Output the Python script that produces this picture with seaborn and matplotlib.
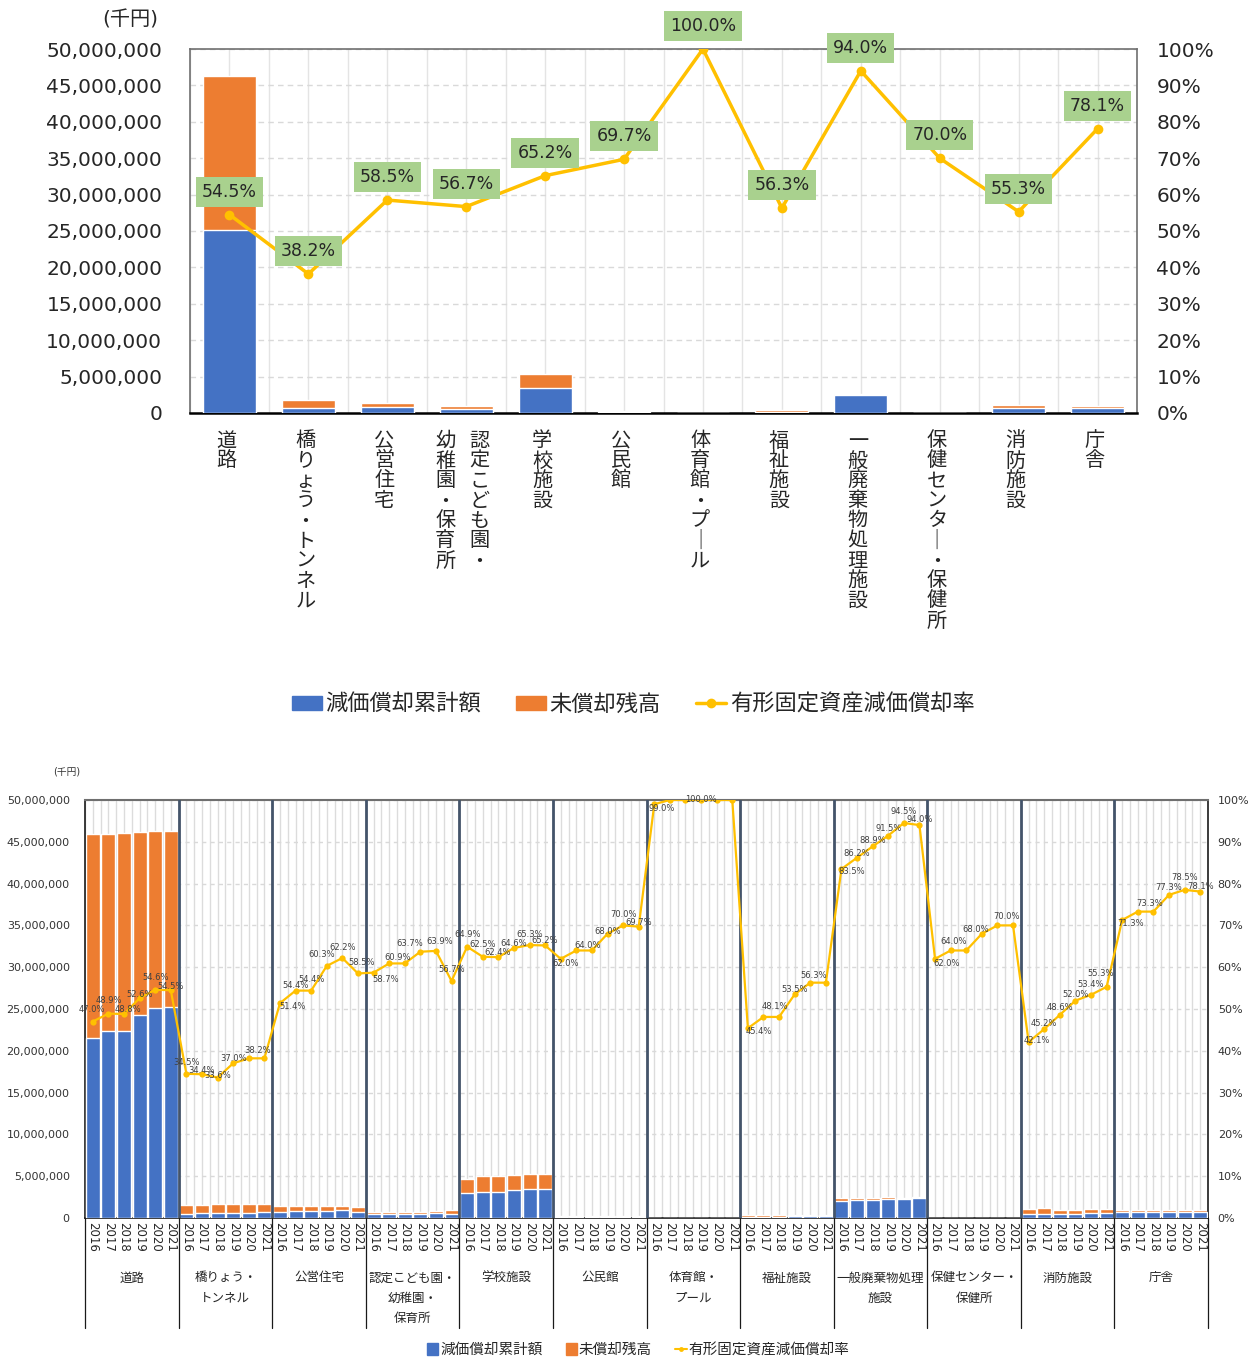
import numpy as np
import pandas as pd
import matplotlib
matplotlib.use("Agg")
import matplotlib.pyplot as plt
from matplotlib.patches import Patch
from matplotlib.lines import Line2D
import seaborn as sns

# ---- data ----
categories = ['道路', '橋りょう・トンネル', '公営住宅', '認定こども園・幼稚園・保育所', '学校施設', '公民館',
              '体育館・プール', '福祉施設', '一般廃棄物処理施設', '保健センター・保健所', '消防施設', '庁舎']
years = ['2016', '2017', '2018', '2019', '2020', '2021']

# top chart: vertical labels, columns from right to left
top_labels = [['道路'], ['橋りょう・トンネル'], ['公営住宅'], ['認定こども園・', '幼稚園・保育所'], ['学校施設'],
              ['公民館'], ['体育館・プール'], ['福祉施設'], ['一般廃棄物処理施設'], ['保健センター・保健所'],
              ['消防施設'], ['庁舎']]
# bottom chart: category labels, one entry per line
bottom_labels = [['道路'], ['橋りょう・', 'トンネル'], ['公営住宅'], ['認定こども園・', '幼稚園・', '保育所'],
                 ['学校施設'], ['公民館'], ['体育館・', 'プール'], ['福祉施設'], ['一般廃棄物処理', '施設'],
                 ['保健センター・', '保健所'], ['消防施設'], ['庁舎']]

# 減価償却累計額 (千円), 2016-2021 for each category
depreciation = [21500000, 22400000, 22400000, 24300000, 25160000, 25200000,
                520000, 550000, 560000, 620000, 640000, 660000,
                760000, 800000, 800000, 890000, 920000, 770000,
                450000, 460000, 460000, 480000, 540000, 520000,
                3040000, 3150000, 3140000, 3360000, 3470000, 3470000,
                150000, 155000, 155000, 165000, 170000, 170000,
                49500, 50000, 50000, 50000, 50000, 50000,
                160000, 175000, 175000, 195000, 205000, 205000,
                2000000, 2100000, 2170000, 2310000, 2310000, 2410000,
                20000, 21000, 21000, 22000, 23000, 23000,
                470000, 520000, 470000, 520000, 580000, 620000,
                660000, 670000, 670000, 710000, 720000, 720000]

# 未償却残高 (千円)
remaining = [24400000, 23560000, 23700000, 21900000, 21080000, 21100000,
             1000000, 1050000, 1120000, 1060000, 1040000, 1060000,
             720000, 680000, 680000, 590000, 560000, 550000,
             310000, 300000, 300000, 280000, 300000, 400000,
             1640000, 1890000, 1900000, 1840000, 1850000, 1850000,
             90000, 85000, 85000, 75000, 70000, 75000,
             500, 0, 0, 0, 0, 0,
             195000, 190000, 190000, 170000, 160000, 160000,
             400000, 340000, 270000, 210000, 130000, 150000,
             12000, 11000, 11000, 10000, 10000, 10000,
             650000, 640000, 490000, 480000, 500000, 500000,
             260000, 250000, 250000, 210000, 200000, 200000]

# 有形固定資産減価償却率 (%)
rates = [47.0, 48.9, 48.8, 52.6, 54.6, 54.5,
         34.5, 34.4, 33.6, 37.0, 38.2, 38.2,
         51.4, 54.4, 54.4, 60.3, 62.2, 58.5,
         58.7, 60.9, 60.9, 63.7, 63.9, 56.7,
         64.9, 62.5, 62.4, 64.6, 65.3, 65.2,
         62.0, 64.0, 64.0, 68.0, 70.0, 69.7,
         99.0, 100.0, 100.0, 100.0, 100.0, 100.0,
         45.4, 48.1, 48.1, 53.5, 56.3, 56.3,
         83.5, 86.2, 88.9, 91.5, 94.5, 94.0,
         62.0, 64.0, 64.0, 68.0, 70.0, 70.0,
         42.1, 45.2, 48.6, 52.0, 53.4, 55.3,
         71.3, 73.3, 73.3, 77.3, 78.5, 78.1]

# label offsets in the bottom chart (dx, dy up, in px); None = label hidden
label_offsets = [(-1, 12), (0, 13), (4, 5), (0, 4), (0, 12), (0, 4),
                 (0, 11), (0, 4), (0, 2), (0, 5), (9, 8), None,
                 (13, -3), (0, 5), (0, 11), (-5, 11), (0, 11), (4, 11),
                 (12, -7), (8, 6), None, (-11, 8), (4, 9), (0, 11),
                 (0, 12), (0, 12), (-1, 5), (0, 4), (0, 11), (0, 5),
                 (5, -5), None, (-4, 5), (0, 2), (0, 11), (0, 4),
                 (7, -4), None, None, (0, 0), None, None,
                 (11, -3), None, (-4, 10), (0, 5), (3, 7), None,
                 (10, -3), (0, 4), (0, 6), (0, 7), (0, 11), (0, 6),
                 (12, -5), (3, 9), None, (-6, 4), (9, 9), None,
                 (8, 2), (0, 6), (0, 7), (0, 6), (0, 10), (-6, 13),
                 (8, -4), None, (-4, 8), (0, 7), (0, 12), (0, 5)]

BLUE = '#4472C4'
ORANGE = '#ED7D31'
YELLOW = '#FFC000'
GREEN = '#A9D18E'
CJK = ['Noto Sans CJK JP']

sns.set_style('white')
plt.rcParams['font.family'] = ['DejaVu Sans', 'Noto Sans CJK JP']

fig = plt.figure(figsize=(12.58, 13.6), dpi=100)

PX = 0.72  # points per pixel at dpi 100
n_cat = len(categories)
n_year = len(years)


def fmt_thousands(v):
    return f'{int(v):,}'


# ================= top chart (latest year) =================
top = pd.DataFrame({'cat': categories,
                    'dep': depreciation[n_year - 1::n_year],
                    'rem': remaining[n_year - 1::n_year],
                    'rate': rates[n_year - 1::n_year]})
top['total'] = top['dep'] + top['rem']

ax1 = fig.add_axes([190 / 1258, 1 - 413 / 1360, 947 / 1258, 364 / 1360])
ax1.set_axisbelow(True)
for xv in np.arange(-0.5, n_cat, 0.5):
    ax1.axvline(xv, color='#e4e4e4', lw=1, zorder=0)
for yv in range(5000000, 50000001, 5000000):
    ax1.axhline(yv, color='#d9d9d9', lw=1, ls=(0, (4, 3)), zorder=0)
sns.barplot(data=top, x='cat', y='total', order=categories, color=ORANGE, saturation=1,
            width=0.67, errorbar=None, ax=ax1, zorder=2)
sns.barplot(data=top, x='cat', y='dep', order=categories, color=BLUE, saturation=1,
            width=0.67, errorbar=None, ax=ax1, zorder=3)
ax1.set_xlim(-0.5, n_cat - 0.5)
ax1.set_ylim(0, 50000000)
ax1.set_yticks(range(0, 50000001, 5000000))
ax1.set_yticklabels([fmt_thousands(v) for v in range(0, 50000001, 5000000)])
ax1.set_xticks(range(n_cat))
ax1.set_xticklabels([])
ax1.set_xlabel('')
ax1.set_ylabel('')
ax1.tick_params(axis='y', length=0, pad=20, labelsize=14.5, labelcolor='#262626')
ax1.tick_params(axis='x', length=0)
for s in ['left', 'top', 'right']:
    ax1.spines[s].set_color('#6f6f6f')
    ax1.spines[s].set_linewidth(1.2)
ax1.spines['bottom'].set_color('#000000')
ax1.spines['bottom'].set_linewidth(1.8)

ax1b = ax1.twinx()
sns.lineplot(x=np.arange(n_cat), y=top['rate'] / 100, ax=ax1b, color=YELLOW, lw=2.5,
             marker='o', markersize=7, markeredgewidth=0, zorder=5)
ax1b.set_xlim(-0.5, n_cat - 0.5)
ax1b.set_ylim(0, 1)
ax1b.set_yticks(np.linspace(0, 1, 11))
ax1b.set_yticklabels([f'{int(round(v * 100))}%' for v in np.linspace(0, 1, 11)])
ax1b.tick_params(axis='y', length=0, pad=14, labelsize=14.5, labelcolor='#262626')
ax1b.set_ylabel('')
for s in ax1b.spines.values():
    s.set_visible(False)
for i, r in enumerate(top['rate']):
    ax1b.annotate(f'{r:.1f}%', xy=(i, r / 100), xytext=(0, 23 * PX), textcoords='offset points',
                  ha='center', va='center', fontsize=12.5, color='#262626', zorder=6,
                  bbox=dict(boxstyle='square,pad=0.35', fc=GREEN, ec='none'))

ax1.annotate('(千円)', xy=(0, 1), xycoords='axes fraction', xytext=(-60 * PX, 29 * PX),
             textcoords='offset points', ha='center', va='center', fontsize=14.5, color='#262626')

# vertical category labels
for i, cols in enumerate(top_labels):
    offsets = [-3] if len(cols) == 1 else [13, -21]
    for col, dx in zip(cols, offsets):
        for k, ch in enumerate(col.replace('ー', '｜')):
            ax1.annotate(ch, xy=(i, 0), xycoords=('data', 'axes fraction'),
                         xytext=(dx * PX, -(28 + 20 * k) * PX), textcoords='offset points',
                         ha='center', va='center', fontsize=14.5, family=CJK, color='#262626')

handles = [Patch(color=BLUE), Patch(color=ORANGE),
           Line2D([], [], color=YELLOW, lw=2.5, marker='o', markersize=7, markeredgewidth=0)]
fig.legend(handles, ['減価償却累計額', '未償却残高', '有形固定資産減価償却率'], loc='center',
           bbox_to_anchor=(633 / 1258, 1 - 704 / 1360), ncol=3, frameon=False,
           prop={'family': CJK, 'size': 16}, handlelength=1.35, handleheight=0.6,
           handletextpad=0.15, columnspacing=1.6, labelcolor='#262626')

# ================= bottom chart (all years) =================
keys = [f'{c}|{y}' for c in categories for y in years]
bottom = pd.DataFrame({'key': keys, 'dep': depreciation, 'rem': remaining, 'rate': rates})
bottom['total'] = bottom['dep'] + bottom['rem']
n_all = len(keys)

ax2 = fig.add_axes([85 / 1258, 1 - 1218 / 1360, 1123 / 1258, 418 / 1360])
ax2.set_axisbelow(True)
for xv in np.arange(-0.5, n_all, 0.5):
    ax2.axvline(xv, color='#dcdcdc', lw=1, zorder=0)
for yv in range(5000000, 50000001, 5000000):
    ax2.axhline(yv, color='#d9d9d9', lw=1, ls=(0, (3, 3)), zorder=0.5)
sns.barplot(data=bottom, x='key', y='total', order=keys, color=ORANGE, saturation=1,
            width=0.9, errorbar=None, ax=ax2, zorder=2)
sns.barplot(data=bottom, x='key', y='dep', order=keys, color=BLUE, saturation=1,
            width=0.9, errorbar=None, ax=ax2, zorder=3)
ax2.set_xlim(-0.5, n_all - 0.5)
ax2.set_ylim(0, 50000000)
ax2.set_yticks(range(0, 50000001, 5000000))
ax2.set_yticklabels([fmt_thousands(v) for v in range(0, 50000001, 5000000)])
ax2.set_xticks(range(n_all))
ax2.set_xticklabels(years * n_cat, rotation=-90, fontsize=8.5, color='#262626')
ax2.set_xlabel('')
ax2.set_ylabel('')
ax2.tick_params(axis='y', length=0, pad=11, labelsize=8, labelcolor='#333333')
ax2.tick_params(axis='x', length=0, pad=3)
ax2.spines['top'].set_color('#6f6f6f')
ax2.spines['top'].set_linewidth(1.5)
for s in ['left', 'right', 'bottom']:
    ax2.spines[s].set_color('#1a1a1a')
    ax2.spines[s].set_linewidth(1.2)

# category separators inside and below the plot
for b in range(1, n_cat):
    ax2.axvline(b * n_year - 0.5, color='#44546A', lw=2, zorder=4)
for b in range(0, n_cat + 1):
    ax2.plot([b * n_year - 0.5] * 2, [0, -0.263], color='#1a1a1a', lw=0.9,
             transform=ax2.get_xaxis_transform(), clip_on=False)

for i, lines in enumerate(bottom_labels):
    for k, line in enumerate(lines):
        ax2.annotate(line, xy=(i * n_year + (n_year - 1) / 2, 0), xycoords=('data', 'axes fraction'),
                     xytext=(0, -(60 + 20 * k) * PX), textcoords='offset points',
                     ha='center', va='center', fontsize=9, family=CJK, color='#262626')

ax2.annotate('(千円)', xy=(0, 1), xycoords='axes fraction', xytext=(-18 * PX, 28 * PX),
             textcoords='offset points', ha='center', va='center', fontsize=7, color='#333333')

ax2b = ax2.twinx()
sns.lineplot(x=np.arange(n_all), y=bottom['rate'] / 100, ax=ax2b, color=YELLOW, lw=1.6,
             marker='o', markersize=4.5, markeredgewidth=0, zorder=5)
ax2b.set_xlim(-0.5, n_all - 0.5)
ax2b.set_ylim(0, 1)
ax2b.set_yticks(np.linspace(0, 1, 11))
ax2b.set_yticklabels([f'{int(round(v * 100))}%' for v in np.linspace(0, 1, 11)])
ax2b.tick_params(axis='y', length=0, pad=7, labelsize=8, labelcolor='#333333')
ax2b.set_ylabel('')
for s in ax2b.spines.values():
    s.set_visible(False)

for i, (r, off) in enumerate(zip(bottom['rate'], label_offsets)):
    if off is None:
        continue
    ax2b.annotate(f'{r:.1f}%', xy=(i, r / 100), xytext=(off[0] * PX, off[1] * PX),
                  textcoords='offset points', ha='center', va='center', fontsize=6,
                  color='#404040', zorder=6)

handles2 = [Patch(color=BLUE), Patch(color=ORANGE),
            Line2D([], [], color=YELLOW, lw=1.5, marker='o', markersize=3.5, markeredgewidth=0)]
fig.legend(handles2, ['減価償却累計額', '未償却残高', '有形固定資産減価償却率'], loc='center',
           bbox_to_anchor=(638 / 1258, 1 - 1350 / 1360), ncol=3, frameon=False,
           prop={'family': CJK, 'size': 10.5}, handlelength=0.8, handleheight=0.8,
           handletextpad=0.1, columnspacing=1.6, labelcolor='#262626')

fig.savefig('out.png', dpi=100)
